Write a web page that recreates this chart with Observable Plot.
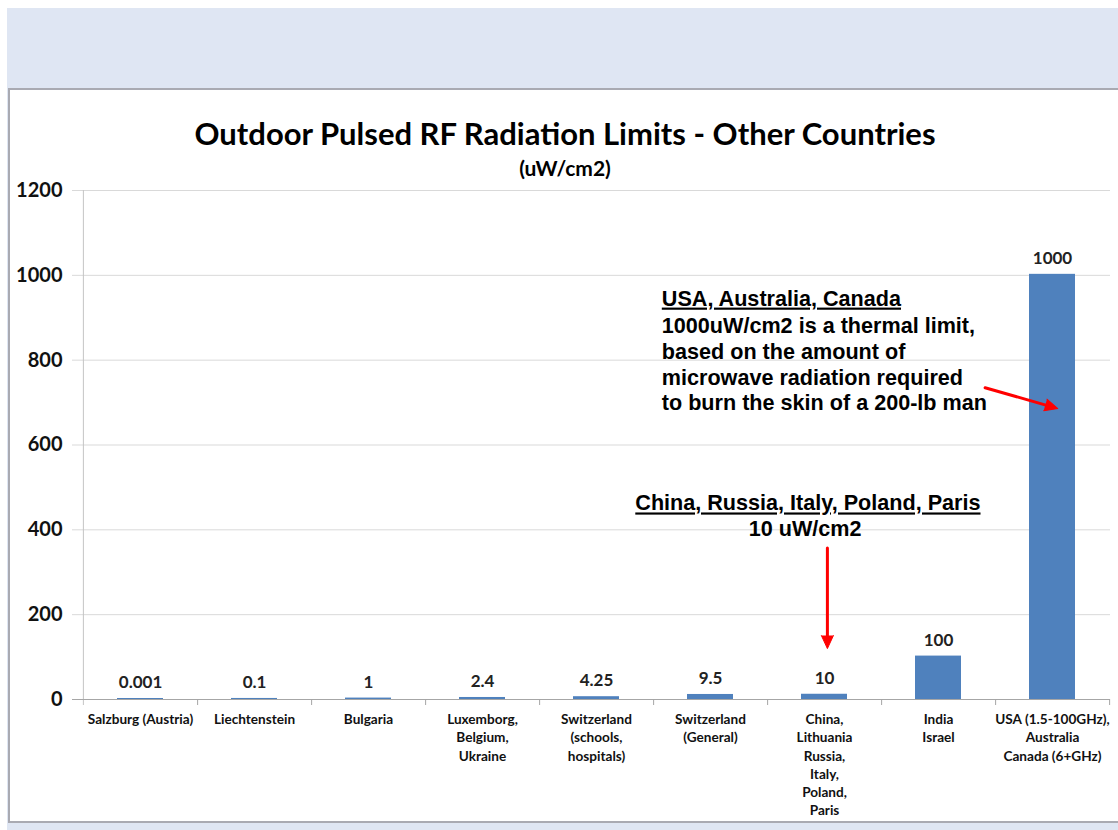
<!DOCTYPE html>
<html>
<head>
<meta charset="utf-8">
<script src="https://cdn.jsdelivr.net/npm/d3@7"></script>
<script src="https://cdn.jsdelivr.net/npm/@observablehq/plot@0.6"></script>
<style>
  html, body { margin: 0; padding: 0; background: #fff; }
  body { width: 1118px; height: 830px; position: relative; overflow: hidden; }
  #band { position: absolute; left: 7px; top: 8px; right: 0; bottom: 0; background: #dfe6f3; }
  #panel { position: absolute; left: 8px; top: 88px; width: 1120px; height: 731px; background: #fff;
           border-top: 2px solid #a9aab2; border-left: 2px solid #a9aab2; border-bottom: 2px solid #a9aab2; }
  #title { position: absolute; left: 0; width: 1130px; top: 113px; text-align: center;
           font: bold 31px Lato, sans-serif; color: #000; line-height: 40px; }
  #subtitle { position: absolute; left: 0; width: 1130px; top: 155px; text-align: center;
              font: bold 21px Lato, sans-serif; color: #000; line-height: 26px; }
  #chart { position: absolute; left: 0; top: 180px; }
</style>
</head>
<body>
<div id="band"></div>
<div id="panel"></div>
<div id="title">Outdoor Pulsed RF Radiation Limits - Other Countries</div>
<div id="subtitle">(uW/cm2)</div>
<div id="chart"></div>
<script>
// ---- data ----
const categories = [
  "Salzburg (Austria)",
  "Liechtenstein",
  "Bulgaria",
  "Luxemborg,\nBelgium,\nUkraine",
  "Switzerland\n(schools,\nhospitals)",
  "Switzerland\n(General)",
  "China,\nLithuania\nRussia,\nItaly,\nPoland,\nParis",
  "India\nIsrael",
  "USA (1.5-100GHz),\nAustralia\nCanada (6+GHz)"
];
const values = [0.001, 0.1, 1, 2.4, 4.25, 9.5, 10, 100, 1000];
const valueLabels = ["0.001", "0.1", "1", "2.4", "4.25", "9.5", "10", "100", "1000"];
const yTicks = [0, 200, 400, 600, 800, 1000, 1200];
const noteHeaders = ["USA, Australia, Canada", "China, Russia, Italy, Poland, Paris"];
const noteBodies = [
  "1000uW/cm2 is a thermal limit,\nbased on the amount of\nmicrowave radiation required\nto burn the skin of a 200-lb man",
  "10 uW/cm2"
];

const data = categories.map((c, i) => ({category: c, value: values[i], label: valueLabels[i]}));

// ---- layout ----
const W = 1118, H = 640;
const mL = 82, mR = 8, mT = 10, mB = 121;
const step = (W - mL - mR) / categories.length;
const chinaCat = categories[6];
const indiaCat = categories[7];
const usaCat = categories[8];
const RED = "#ff0000";
const noteFont = {fontFamily: "Liberation Sans", fontWeight: "bold", fontSize: 21.6, fill: "#000"};

const plot = Plot.plot({
  width: W,
  height: H,
  marginLeft: mL,
  marginRight: mR,
  marginTop: mT,
  marginBottom: mB,
  style: {background: "transparent", overflow: "visible"},
  x: {type: "band", domain: categories, paddingInner: 0.6, paddingOuter: 0.3, axis: null},
  y: {domain: [0, 1200], axis: null},
  marks: [
    // gridlines
    Plot.ruleY(yTicks.filter(d => d > 0), {y: d => d, stroke: "#d9d9d9", strokeWidth: 1, insetLeft: -10}),
    // vertical axis line
    Plot.ruleX([categories[0]], {x: d => d, y1: () => 1200, y2: () => 0, dx: -step / 2, insetBottom: -6, stroke: "#c4c4c4"}),
    // bars
    Plot.barY(data, {x: "category", y: "value", fill: "#4f81bd", insetTop: -1}),
    // zero axis line
    Plot.ruleY([0], {y: d => d, stroke: "#a6a6a6", strokeWidth: 1, insetLeft: -10}),
    // category separators
    Plot.ruleX(categories, {x: d => d, y1: () => 0, y2: () => 0, dx: step / 2, insetBottom: -6, stroke: "#a6a6a6"}),
    // y tick labels
    Plot.text(yTicks, {y: d => d, text: d => String(d), frameAnchor: "left", textAnchor: "end", dx: -20,
      fontFamily: "Lato", fontWeight: "bold", fontSize: 20, fill: "#111"}),
    // value labels
    Plot.text(data, {x: "category", y: "value", text: "label", dy: -17,
      fontFamily: "Lato", fontWeight: "bold", fontSize: 17, fill: "#222"}),
    // category labels
    Plot.text(data, {x: "category", y: () => 0, text: "category", lineAnchor: "top", dy: 12, lineHeight: 1.33,
      fontFamily: "Lato", fontWeight: "bold", fontSize: 13.6, fill: "#111"}),
    // annotation 1 (USA)
    Plot.text([noteHeaders[0]], {x: () => chinaCat, y: () => 945, text: d => d, textAnchor: "start", dx: -162.7, ...noteFont}),
    Plot.text([noteBodies[0]], {x: () => chinaCat, y: () => 792, text: d => d, textAnchor: "start", dx: -162.7,
      lineHeight: 1.19, ...noteFont}),
    // annotation 2 (China)
    Plot.text([noteHeaders[1]], {x: () => chinaCat, y: () => 462, text: d => d, dx: -16.6, ...noteFont}),
    Plot.text([noteBodies[1]], {x: () => chinaCat, y: () => 402, text: d => d, dx: -19.4, ...noteFont}),
    // arrows: shafts
    Plot.arrow([0], {x1: () => chinaCat, x2: () => chinaCat, y1: () => 357, y2: () => 120, dx: 2.9,
      stroke: RED, strokeWidth: 3, headLength: 0, insetEnd: 8}),
    Plot.arrow([0], {x1: () => indiaCat, x2: () => usaCat, y1: () => 763, y2: () => 686, dx: 5.3, insetStart: 43, insetEnd: 8,
      stroke: RED, strokeWidth: 3, headLength: 0}),
    // arrows: filled heads
    Plot.vector([0], {x: () => chinaCat, y: () => 120, dx: 2.9, rotate: 180, length: 13, r: 6, anchor: "end",
      shape: "spike", fill: RED, stroke: RED, strokeWidth: 1}),
    Plot.vector([0], {x: () => usaCat, y: () => 686, dx: 5.3, rotate: 106, length: 13, r: 6, anchor: "end",
      shape: "spike", fill: RED, stroke: RED, strokeWidth: 1})
  ]
});

document.getElementById("chart").appendChild(plot);

// underline annotation headers
plot.querySelectorAll("text").forEach(t => {
  if (noteHeaders.includes(t.textContent)) t.style.textDecoration = "underline";
});
</script>
</body>
</html>
